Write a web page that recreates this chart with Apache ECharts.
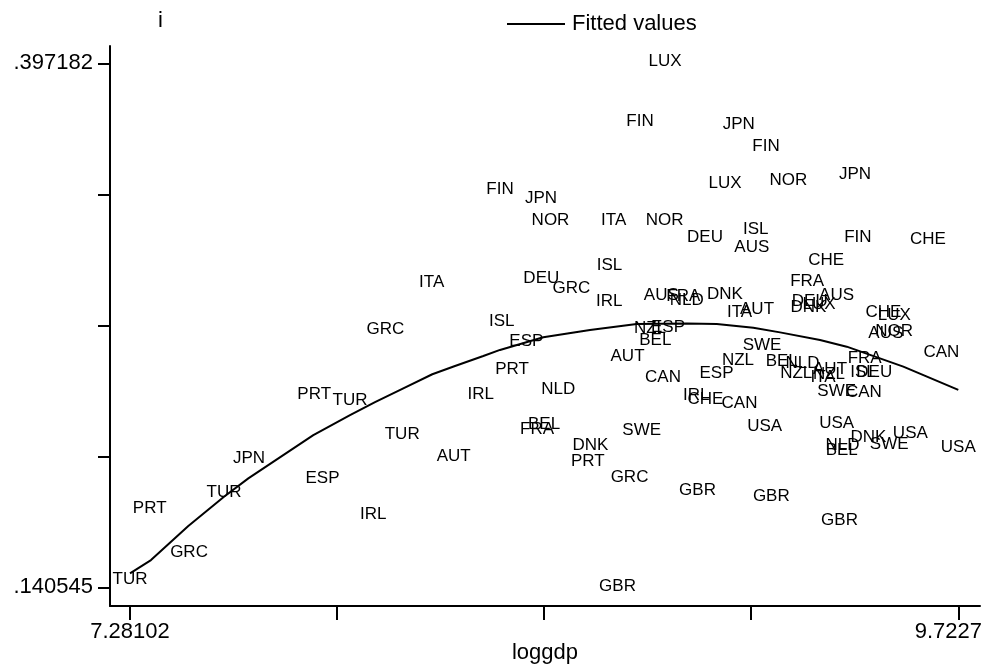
<!DOCTYPE html>
<html lang="en">

<head>
    <meta charset="UTF-8">
    <title>i vs loggdp</title>
    <script src="https://cdn.jsdelivr.net/npm/echarts@6/dist/echarts.min.js"></script>
    <style>
        body { margin: 0; background: #fff; }
    </style>
</head>

<body>
    <div id="main" style="width: 989px;height:668px;"></div>
    <script type="text/javascript">
        // country codes, loggdp and i for each observation
        var countries = ['TUR', 'GRC', 'PRT', 'TUR', 'JPN', 'ESP', 'IRL', 'PRT', 'TUR', 'TUR', 'AUT', 'GRC',
            'ITA', 'IRL', 'ISL', 'ESP', 'PRT', 'FIN', 'JPN', 'NOR', 'DEU', 'GRC', 'NLD', 'BEL',
            'FRA', 'DNK', 'PRT', 'ISL', 'IRL', 'ITA', 'FIN', 'SWE', 'GRC', 'GBR', 'AUT', 'LUX',
            'NOR', 'AUS', 'FRA', 'NLD', 'NZL', 'ESP', 'BEL', 'CAN', 'GBR', 'IRL', 'CHE', 'DEU',
            'LUX', 'DNK', 'ESP', 'JPN', 'FIN', 'ISL', 'AUS', 'ITA', 'AUT', 'SWE', 'NZL', 'CAN',
            'USA', 'GBR', 'NOR', 'CHE', 'FRA', 'DEU', 'DNK', 'LUX', 'AUS', 'BEL', 'NLD', 'NZL',
            'AUT', 'ITA', 'NZL', 'SWE', 'USA', 'NLD', 'BEL', 'GBR', 'JPN', 'FIN', 'FRA', 'ISL',
            'DEU', 'CAN', 'DNK', 'SWE', 'USA', 'CHE', 'CHE', 'LUX', 'NOR', 'AUS', 'CAN', 'USA'];
        var loggdp = [7.2810, 7.4550, 7.3391, 7.5581, 7.6318, 7.8485, 7.9982, 7.8240, 7.9296, 8.0834, 8.2353, 8.0336,
            8.1704, 8.3151, 8.3768, 8.4493, 8.4071, 8.3717, 8.4926, 8.5206, 8.4935, 8.5819, 8.5436, 8.5015,
            8.4808, 8.6385, 8.6306, 8.6945, 8.6936, 8.7069, 8.7845, 8.7895, 8.7535, 8.7181, 8.7476, 8.8582,
            8.8567, 8.8472, 8.9121, 8.9221, 8.8139, 8.8670, 8.8296, 8.8522, 8.9540, 8.9504, 8.9775, 8.9761,
            9.0350, 9.0350, 9.0100, 9.0757, 9.1559, 9.1258, 9.1140, 9.0778, 9.1294, 9.1441, 9.0733, 9.0778,
            9.1521, 9.1715, 9.2216, 9.3334, 9.2773, 9.2847, 9.2806, 9.3121, 9.3637, 9.2022, 9.2635, 9.2449,
            9.3446, 9.3239, 9.3416, 9.3643, 9.3643, 9.3814, 9.3790, 9.3726, 9.4183, 9.4265, 9.4468, 9.4418,
            9.4749, 9.4442, 9.4575, 9.5191, 9.5813, 9.6329, 9.5017, 9.5338, 9.5338, 9.5090, 9.6727, 9.7227];
        var invest = [0.1436, 0.1571, 0.1786, 0.1863, 0.2031, 0.1933, 0.1757, 0.2345, 0.2315, 0.2149, 0.2041, 0.2660,
            0.2892, 0.2345, 0.2699, 0.2603, 0.2464, 0.3345, 0.3305, 0.3197, 0.2913, 0.2864, 0.2366, 0.2194,
            0.2172, 0.2092, 0.2015, 0.2973, 0.2797, 0.3197, 0.3678, 0.2169, 0.1935, 0.1405, 0.2531, 0.3972,
            0.3197, 0.2827, 0.2823, 0.2805, 0.2667, 0.2669, 0.2608, 0.2425, 0.1875, 0.2337, 0.2321, 0.3111,
            0.3375, 0.2832, 0.2445, 0.3667, 0.3560, 0.3150, 0.3063, 0.2743, 0.2758, 0.2581, 0.2512, 0.2297,
            0.2189, 0.1846, 0.3393, 0.3002, 0.2895, 0.2801, 0.2769, 0.2784, 0.2828, 0.2503, 0.2495, 0.2448,
            0.2466, 0.2428, 0.2439, 0.2358, 0.2200, 0.2095, 0.2070, 0.1728, 0.3422, 0.3111, 0.2519, 0.2451,
            0.2450, 0.2351, 0.2132, 0.2097, 0.2150, 0.3101, 0.2744, 0.2731, 0.2654, 0.2640, 0.2550, 0.2082];

        // fitted values
        var fitX = [7.2810, 7.3429, 7.4529, 7.5581, 7.6298, 7.8214, 7.9296, 8.0033, 8.0867, 8.1722, 8.2391, 8.3225,
            8.3717, 8.4994, 8.6370, 8.7747, 8.9221, 9.0106, 9.1185, 9.1972, 9.3151, 9.3938, 9.5606, 9.7227];
        var fitY = [0.1474, 0.1539, 0.1706, 0.1849, 0.1939, 0.2151, 0.2249, 0.2312, 0.2380, 0.2449, 0.2489, 0.2538,
            0.2568, 0.2630, 0.2666, 0.2695, 0.2698, 0.2695, 0.2677, 0.2654, 0.2617, 0.2584, 0.2486, 0.2372];

        // axis ticks
        var xTicks = [7.28102, 7.89144, 8.50186, 9.11228, 9.7227];
        var xLabels = [7.28102, 9.7227];
        var yTicks = [0.140545, 0.204704, 0.268864, 0.333023, 0.397182];
        var yLabels = [0.140545, 0.397182];

        var font = 'Liberation Sans, Arial, sans-serif';
        var points = countries.map(function (c, i) { return [loggdp[i], invest[i], c]; });
        var fitted = fitX.map(function (x, i) { return [x, fitY[i]]; });

        var myChart = echarts.init(document.getElementById('main'));
        myChart.setOption({
            animation: false,
            textStyle: { fontFamily: font, color: '#000' },
            legend: {
                data: ['Fitted values'],
                left: 502,
                top: 8,
                icon: 'rect',
                itemWidth: 58,
                itemHeight: 2,
                itemGap: 0,
                textStyle: { fontSize: 22, color: '#000', fontFamily: font, padding: [0, 0, 0, 2] }
            },
            grid: { left: 110, right: 9, top: 46, bottom: 62, outerBoundsMode: 'none' },
            xAxis: {
                type: 'value',
                min: 7.22206,
                max: 9.78667,
                name: 'loggdp',
                nameLocation: 'middle',
                nameGap: 47,
                nameMoveOverlap: false,
                nameTextStyle: { fontSize: 22, color: '#000', fontFamily: font, verticalAlign: 'middle' },
                splitLine: { show: false },
                axisLine: { lineStyle: { color: '#000', width: 2 } },
                axisTick: { customValues: xTicks, length: 14, lineStyle: { color: '#000', width: 2 } },
                axisLabel: {
                    customValues: xLabels,
                    margin: 15,
                    fontSize: 22,
                    color: '#000',
                    fontFamily: font,
                    formatter: function (v) {
                        return v === 9.7227 ? '{r|9.7227}' : String(v);
                    },
                    rich: { r: { fontSize: 22, fontFamily: font, color: '#000', padding: [0, 20, 0, 0] } }
                }
            },
            yAxis: {
                type: 'value',
                min: 0.131386,
                max: 0.405655,
                name: 'i',
                nameLocation: 'end',
                nameGap: 25,
                nameMoveOverlap: false,
                nameTextStyle: { fontSize: 22, color: '#000', fontFamily: font, align: 'left', verticalAlign: 'middle', padding: [0, 0, 0, 48] },
                splitLine: { show: false },
                axisLine: { lineStyle: { color: '#000', width: 2 } },
                axisTick: { customValues: yTicks, length: 12, lineStyle: { color: '#000', width: 2 } },
                axisLabel: {
                    customValues: yLabels,
                    margin: 17,
                    fontSize: 22,
                    color: '#000',
                    fontFamily: font,
                    formatter: function (v) { return String(v).replace(/^0/, ''); }
                }
            },
            series: [{
                name: 'countries',
                type: 'scatter',
                symbolSize: 0,
                data: points,
                itemStyle: { opacity: 1 },
                label: {
                    show: true,
                    position: 'inside',
                    offset: [0, -1.5],
                    fontSize: 17,
                    color: '#000',
                    opacity: 1,
                    fontFamily: font,
                    formatter: function (p) { return p.value[2]; }
                },
                emphasis: { disabled: true }
            }, {
                name: 'Fitted values',
                type: 'line',
                data: fitted,
                showSymbol: false,
                color: '#000',
                lineStyle: { color: '#000', width: 2 }
            }]
        });
    </script>
</body>

</html>
